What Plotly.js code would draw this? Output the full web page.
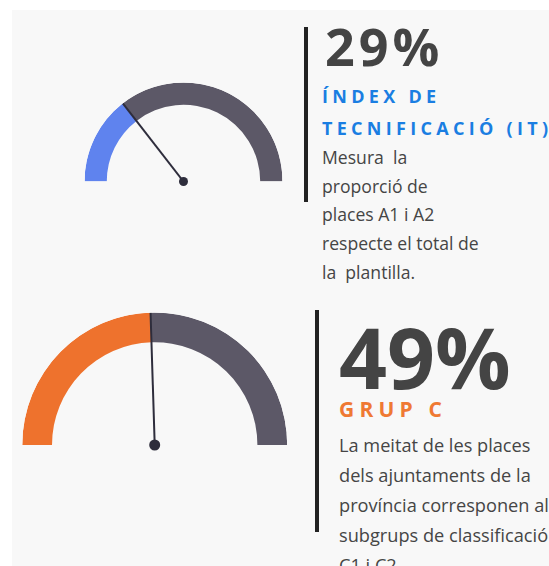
<!DOCTYPE html>
<html>
<head>
<meta charset="utf-8">
<script src="https://cdn.plot.ly/plotly-3.0.1.min.js"></script>
<style>
  html, body { margin: 0; padding: 0; background: #ffffff; }
  #chart { width: 549px; height: 566px; }
</style>
</head>
<body>
<div id="chart"></div>
<script>
// ---------------- DATA ----------------
const gaugeNames   = ['Índex de tecnificació (IT)', 'Grup C'];
const gaugeValues  = [29, 49];               // percent
const valueLabels  = ['29%', '49%'];
const headingLines = [['ÍNDEX DE', 'TECNIFICACIÓ (IT)'], ['GRUP C']];
const bodyLines    = [
  ['Mesura  la', 'proporció de', 'places A1 i A2', 'respecte el total de', 'la  plantilla.'],
  ['La meitat de les places', 'dels ajuntaments de la', 'província corresponen als', 'subgrups de classificació', 'C1 i C2.']
];

// ---------------- LAYOUT / STYLE CONFIG ----------------
const W = 549, H = 566;
const panels = [
  { cx: 183.5, cy: 181.5, R: 99,  hole: 0.775, fill: '#5f83ee', rest: '#5c5867',
    needleW: 2, dot: 9,
    barX: 306, barY0: 27, barY1: 202, textX: 320, numX: 323,
    numY: 45, numSize: 52, numSpacing: 4, numColor: '#444444',
    headY: [96, 128], headSize: 18, headColor: '#1a7ee2', headSpacing: 4.3,
    bodyY0: 157, bodyStep: 28.7, bodySize: 17.6 },
  { cx: 154.7, cy: 445, R: 132.5, hole: 0.775, fill: '#ee722d', rest: '#5c5867',
    needleW: 2, dot: 11,
    barX: 317, barY0: 310, barY1: 532, textX: 337, numX: 337,
    numY: 356, numSize: 84, numSpacing: 0, numColor: '#444444',
    headY: [409], headSize: 21, headColor: '#ef7933', headSpacing: 5.2,
    bodyY0: 445, bodyStep: 30, bodySize: 18.2 }
];
const needleColor = '#2e2d3c';
const bodyColor = '#454545';
const numFont = 'Open Sans, sans-serif';
const headFont = 'Open Sans, sans-serif';
const bodyFont = 'Open Sans, sans-serif';

const px = x => x / W;
const py = y => 1 - y / H;

const traces = [];
const layout = {
  width: W, height: H,
  margin: { l: 0, r: 0, t: 0, b: 0 },
  paper_bgcolor: '#ffffff',
  showlegend: false,
  shapes: [
    { type: 'rect', xref: 'paper', yref: 'paper', x0: px(12), x1: 1, y0: 0, y1: py(10),
      fillcolor: '#f8f8f8', line: { width: 0 }, layer: 'below' }
  ],
  annotations: []
};
const spacedIdx = [];

panels.forEach((p, i) => {
  const v = gaugeValues[i];
  const deg = v * 180 / 100;
  const pname = i === 0 ? 'polar' : 'polar' + (i + 1);
  const sub = pname;
  layout[pname] = {
    domain: { x: [px(p.cx - p.R), px(p.cx + p.R)], y: [py(p.cy), py(p.cy - p.R)] },
    sector: [0, 180],
    bgcolor: 'rgba(0,0,0,0)',
    radialaxis: { visible: false, range: [0, 1] },
    angularaxis: { visible: false, rotation: 180, direction: 'clockwise',
                   showgrid: false, showline: false, showticklabels: false, ticks: '' }
  };
  // filled part
  traces.push({ type: 'barpolar', subplot: sub, name: gaugeNames[i],
    r: [1 - p.hole], base: [p.hole], theta: [deg / 2], width: [deg],
    marker: { color: p.fill, line: { width: 0 } }, hoverinfo: 'skip' });
  // remaining part
  traces.push({ type: 'barpolar', subplot: sub, name: 'resta',
    r: [1 - p.hole], base: [p.hole], theta: [deg + (180 - deg) / 2], width: [180 - deg],
    marker: { color: p.rest, line: { width: 0 } }, hoverinfo: 'skip' });
  // needle
  traces.push({ type: 'scatterpolar', subplot: sub, mode: 'lines', cliponaxis: false,
    r: [0, 1], theta: [deg, deg], line: { color: needleColor, width: p.needleW }, hoverinfo: 'skip' });
  traces.push({ type: 'scatterpolar', subplot: sub, mode: 'markers', cliponaxis: false,
    r: [0], theta: [deg], marker: { color: needleColor, size: p.dot }, hoverinfo: 'skip' });

  // vertical bar
  layout.shapes.push({ type: 'line', xref: 'paper', yref: 'paper',
    x0: px(p.barX), x1: px(p.barX), y0: py(p.barY0), y1: py(p.barY1),
    line: { color: '#222222', width: 4 } });

  // big number
  if (p.numSpacing) spacedIdx.push([layout.annotations.length, p.numSpacing]);
  layout.annotations.push({ xref: 'paper', yref: 'paper', x: px(p.numX), y: py(p.numY),
    xanchor: 'left', yanchor: 'middle', align: 'left', showarrow: false,
    text: '<b>' + valueLabels[i] + '</b>',
    font: { family: numFont, size: p.numSize, color: p.numColor } });

  headingLines[i].forEach((t, k) => {
    spacedIdx.push([layout.annotations.length, p.headSpacing]);
    layout.annotations.push({ xref: 'paper', yref: 'paper', x: px(p.textX), y: py(p.headY[k]),
      xanchor: 'left', yanchor: 'middle', align: 'left', showarrow: false,
      text: '<b>' + t + '</b>',
      font: { family: headFont, size: p.headSize, color: p.headColor } });
  });

  bodyLines[i].forEach((t, k) => {
    layout.annotations.push({ xref: 'paper', yref: 'paper', x: px(p.textX),
      y: py(p.bodyY0 + k * p.bodyStep),
      xanchor: 'left', yanchor: 'middle', align: 'left', showarrow: false,
      text: t.replace(/  /g, ' &nbsp;'),
      font: { family: bodyFont, size: p.bodySize, color: bodyColor } });
  });
});

Plotly.newPlot('chart', traces, layout, { displayModeBar: false, staticPlot: true }).then(() => {
  const css = spacedIdx.map(([idx, s]) =>
    `.annotation[data-index="${idx}"] text { letter-spacing: ${s}px; }`).join('\n');
  const st = document.createElement('style');
  st.textContent = css;
  document.head.appendChild(st);
});
</script>
</body>
</html>
